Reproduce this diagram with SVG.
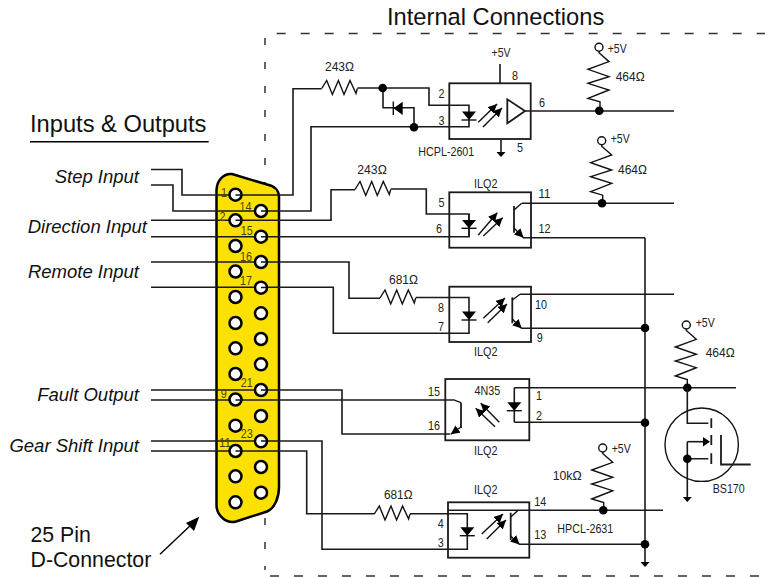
<svg xmlns="http://www.w3.org/2000/svg" width="765" height="577" viewBox="0 0 765 577">
<style>
text{font-family:"Liberation Sans",Arial,sans-serif;font-size:13.5px;fill:#222}
.big{font-size:23.7px;fill:#111}
.it{font-size:18.5px;font-style:italic;fill:#111}
.cap{font-size:21.3px;fill:#111}
.pinl{fill:#4a4400}
.w{fill:none;stroke:#1a1a1a;stroke-width:1.6}
.box{fill:none;stroke:#1a1a1a;stroke-width:1.8}
.th{fill:none;stroke:#111;stroke-width:1.4}
.d{fill:#000}
.pin{fill:#fff;stroke:#000;stroke-width:2.5}
.dash{fill:none;stroke:#333;stroke-width:1.5}
.oa{fill:none;stroke:#111;stroke-width:1.4;marker-end:url(#ah)}
</style>
<defs>
<marker id="ah" markerUnits="userSpaceOnUse" markerWidth="11" markerHeight="10" refX="9" refY="4.500" orient="auto"><path d="M0 0L9 4.500L0 9z" fill="#000"/></marker>
<path id="rh" class="th" d="M0 0L5 -8L10.700 6L16.700 -8L22.300 6L28.300 -8L34.300 5L35.700 0"/>
<g id="rv"><circle class="th" r="4"/><path class="th" d="M0 4V5.500L10 14.300L-11 22L10 29.300L-11 36L10 42.700L-11 51L1 54.500V63"/></g>
<g id="led"><path class="d" d="M-7 -8.400H7L0 0z"/><path class="th" d="M-7.500 0H7.500"/></g>
<polygon id="gt" class="d" points="-4.500,0 4.500,0 0,5"/>
</defs>

<path class="dash" stroke-dasharray="9 15" d="M276.700 33.500H765"/>
<path class="dash" stroke-dasharray="9 15" d="M270 576H765"/>
<path class="dash" stroke-dasharray="7 17" d="M265 38V570"/>

<g id="d-connector">
<path fill="#fbe000" stroke="#000" stroke-width="2.500" d="M216.500 190C217 180 224 173 232 174L267 184.500C275 186 279 191 279 197V487C279 497 275 508 267 511.500L236 521.500C226 524 216.500 515 216.500 505z"/>
</g>

<g id="connectors">
<path class="w" d="M151 169.500H182V195H293V88.700H321.700M357.400 88H429V105.300H469V126.700H311V211H173V185H151"/>
<path class="w" d="M383 88V107.700H414V127.300"/>
<path class="w" d="M151 220.300H331V189.700H355M390.700 189H426.300V214H469V236.700H151"/>
<path class="w" d="M151 262H349V298.300H380M415.700 297.500H469V333.300H333.300V287.300H151"/>
<path class="w" d="M151 390H342V434H450"/>
<path class="w" d="M151 400H453"/>
<path class="w" d="M151 441H322V549.300H467.300V513.700H410M374.300 513.700H306.700V451H151"/>
<path class="w" d="M525 111H674"/>
<path class="w" d="M522 203.300H674"/>
<path class="w" d="M523 237.700H645"/>
<path class="w" d="M520 294.300H674"/>
<path class="w" d="M521.700 328.300H645"/>
<path class="w" d="M514.300 387.700H736"/>
<path class="w" d="M514.300 422.300H645"/>
<path class="w" d="M448 510.300H663"/>
<path class="w" d="M519.300 544.300H645"/>
<path class="w" d="M645 237.700V562"/>
<path class="w" d="M514.300 387.700V422.300"/>
<use href="#gt" x="645" y="562"/>
<circle class="d" cx="382.700" cy="88" r="4.300"/>
<circle class="d" cx="414" cy="127.300" r="4.300"/>
<circle class="d" cx="645" cy="328" r="4.300"/>
<circle class="d" cx="645" cy="422.700" r="4.300"/>
<circle class="d" cx="645" cy="544.300" r="4.300"/>
</g>

<g id="d-connector-pins">
<g class="pin">
<circle cx="235.500" cy="194.700" r="6"/><circle cx="235.500" cy="220.300" r="6"/><circle cx="235.500" cy="246" r="6"/><circle cx="235.500" cy="271.500" r="6"/><circle cx="235.500" cy="297" r="6"/><circle cx="235.500" cy="323" r="6"/><circle cx="235.500" cy="348.300" r="6"/><circle cx="235.500" cy="374" r="6"/><circle cx="235.500" cy="399.500" r="6"/><circle cx="235.500" cy="425.700" r="6"/><circle cx="235.500" cy="451" r="6"/><circle cx="235.500" cy="476.300" r="6"/><circle cx="235.500" cy="502.300" r="6"/>
<circle cx="261" cy="211" r="6"/><circle cx="261" cy="236.700" r="6"/><circle cx="261" cy="262" r="6"/><circle cx="261" cy="287.700" r="6"/><circle cx="261" cy="313.300" r="6"/><circle cx="261" cy="339" r="6"/><circle cx="261" cy="364.300" r="6"/><circle cx="261" cy="390" r="6"/><circle cx="261" cy="416" r="6"/><circle cx="261" cy="441.300" r="6"/><circle cx="261" cy="467" r="6"/><circle cx="261" cy="492.700" r="6"/>
</g>
<path class="th" d="M235.500 195H242M235.500 220.300H242M235.500 400H242M235.500 451H242M261 211H267M261 236.700H267M261 262H267M261 287.500H267M261 390H267M261 441H267"/>
<text class="pinl" x="221" y="196.700" textLength="6" lengthAdjust="spacingAndGlyphs">1</text><text class="pinl" x="239.500" y="210.700" textLength="12" lengthAdjust="spacingAndGlyphs">14</text><text class="pinl" x="219.500" y="220.700" textLength="6" lengthAdjust="spacingAndGlyphs">2</text><text class="pinl" x="240.700" y="235" textLength="12" lengthAdjust="spacingAndGlyphs">15</text><text class="pinl" x="240" y="261" textLength="12" lengthAdjust="spacingAndGlyphs">16</text><text class="pinl" x="240" y="285" textLength="12" lengthAdjust="spacingAndGlyphs">17</text><text class="pinl" x="240.700" y="387.300" textLength="12" lengthAdjust="spacingAndGlyphs">21</text><text class="pinl" x="220.700" y="398.300" textLength="6" lengthAdjust="spacingAndGlyphs">9</text><text class="pinl" x="240.700" y="438.300" textLength="12" lengthAdjust="spacingAndGlyphs">23</text><text class="pinl" x="219" y="447.300" textLength="12" lengthAdjust="spacingAndGlyphs">11</text>
</g>

<g id="titles">
<text class="big" x="387" y="25">Internal Connections</text>
<text class="big" x="30" y="131.500">Inputs &amp; Outputs</text>
<path d="M30 141.700H208.700" stroke="#000" stroke-width="1.400"/>
<text class="it" x="139" y="182.700" text-anchor="end">Step Input</text>
<text class="it" x="147" y="233.300" text-anchor="end">Direction Input</text>
<text class="it" x="139" y="278.300" text-anchor="end">Remote Input</text>
<text class="it" x="139" y="401" text-anchor="end">Fault Output</text>
<text class="it" x="139" y="451.700" text-anchor="end">Gear Shift Input</text>
<text class="cap" x="30.500" y="541.700">25 Pin</text>
<text class="cap" x="30.500" y="567.300">D-Connector</text>
<path d="M160 554.300L192 524" stroke="#000" stroke-width="1.400"/>
<path d="M199.300 516.700L194 531L186 523z" fill="#000"/>
</g>

<g id="r1"><use href="#rh" x="321.700" y="88.500"/><text x="325" y="70.700" textLength="29" lengthAdjust="spacingAndGlyphs">243Ω</text></g>
<g id="d1"><path class="d" d="M402.700 101.700V115L393.500 108.300z"/><path class="th" d="M393.300 101.500V115"/></g>

<g id="u1">
<rect class="box" x="449.300" y="83.300" width="81.400" height="55.700"/>
<path class="w" d="M500 64V83.300M501 140V153"/><use href="#gt" x="501" y="152"/>
<use href="#led" x="469" y="120"/>
<path class="oa" d="M478.300 122.300L497 104"/><path class="oa" d="M483 127L502 108"/>
<path class="box" d="M507.300 99.300V123.300L525 111z"/>
<text x="491.500" y="57" textLength="19" lengthAdjust="spacingAndGlyphs">+5V</text><text x="512" y="80" textLength="6" lengthAdjust="spacingAndGlyphs">8</text><text x="517" y="151.700" textLength="6" lengthAdjust="spacingAndGlyphs">5</text><text x="539" y="107" textLength="6" lengthAdjust="spacingAndGlyphs">6</text>
<text x="438.500" y="98" textLength="6" lengthAdjust="spacingAndGlyphs">2</text><text x="438.500" y="125" textLength="6" lengthAdjust="spacingAndGlyphs">3</text>
<text x="418.300" y="156" textLength="56" lengthAdjust="spacingAndGlyphs">HCPL-2601</text>
</g>
<g id="r2"><use href="#rv" x="599" y="47.300"/><circle class="d" cx="599.300" cy="110.700" r="4.300"/><text x="607.700" y="52.700" textLength="19" lengthAdjust="spacingAndGlyphs">+5V</text><text x="615.700" y="81" textLength="29" lengthAdjust="spacingAndGlyphs">464Ω</text></g>

<g id="r3"><use href="#rh" x="355" y="189.500"/><text x="357.300" y="174" textLength="29.500" lengthAdjust="spacingAndGlyphs">243Ω</text></g>
<g id="u2">
<rect class="box" x="449.300" y="192.300" width="81.700" height="55.400"/>
<path class="w" d="M469 214V236.700"/><use href="#led" x="469" y="228.300"/>
<path class="oa" d="M478.300 235L497.300 212.700"/><path class="oa" d="M483.300 236L502.700 217.700"/>
<path class="box" d="M514 206V232.700"/><path class="th" d="M514 210L521.700 203.300"/><path class="oa" d="M514 228L523.500 237.800"/>
<text x="474" y="188" textLength="23.500" lengthAdjust="spacingAndGlyphs">ILQ2</text><text x="538.500" y="198" textLength="12" lengthAdjust="spacingAndGlyphs">11</text><text x="538.500" y="233" textLength="12" lengthAdjust="spacingAndGlyphs">12</text><text x="438.500" y="206.700" textLength="6" lengthAdjust="spacingAndGlyphs">5</text><text x="436" y="233" textLength="6" lengthAdjust="spacingAndGlyphs">6</text>
</g>
<g id="r4"><use href="#rv" x="601.700" y="140.700"/><circle class="d" cx="602" cy="203.300" r="4.300"/><text x="610.700" y="142.700" textLength="19" lengthAdjust="spacingAndGlyphs">+5V</text><text x="618" y="174" textLength="29" lengthAdjust="spacingAndGlyphs">464Ω</text></g>

<g id="r5"><use href="#rh" x="380" y="298"/><text x="389" y="284" textLength="29" lengthAdjust="spacingAndGlyphs">681Ω</text></g>
<g id="u3">
<rect class="box" x="449.300" y="286.700" width="81.700" height="55.300"/>
<use href="#led" x="469" y="320"/>
<path class="oa" d="M483.300 318.300L505 298"/><path class="oa" d="M487.700 322.700L507 304"/>
<path class="box" d="M512.300 297.300V323.300"/><path class="th" d="M512.300 300L520 294.300"/><path class="oa" d="M512.300 319L521.700 328.500"/>
<text x="474" y="356" textLength="23.500" lengthAdjust="spacingAndGlyphs">ILQ2</text><text x="535" y="309" textLength="12" lengthAdjust="spacingAndGlyphs">10</text><text x="536.700" y="341.700" textLength="6" lengthAdjust="spacingAndGlyphs">9</text><text x="438" y="311.700" textLength="6" lengthAdjust="spacingAndGlyphs">8</text><text x="438" y="330.700" textLength="6" lengthAdjust="spacingAndGlyphs">7</text>
</g>

<g id="u4">
<rect class="box" x="445.300" y="379" width="84" height="61.300"/>
<use href="#led" x="514.300" y="410.700"/>
<path class="oa" d="M495 426.700L475.700 408.300"/><path class="oa" d="M499.300 422.300L480.700 403.300"/>
<path class="box" d="M461 402.700V428"/><path class="th" d="M453 399.700L461 402.700"/><path class="oa" d="M461 427L450.700 434.300"/>
<text x="474.500" y="394.700" textLength="25.700" lengthAdjust="spacingAndGlyphs">4N35</text><text x="474" y="455" textLength="23.500" lengthAdjust="spacingAndGlyphs">ILQ2</text><text x="428" y="395.700" textLength="12" lengthAdjust="spacingAndGlyphs">15</text><text x="428" y="430" textLength="12" lengthAdjust="spacingAndGlyphs">16</text><text x="536" y="400" textLength="6" lengthAdjust="spacingAndGlyphs">1</text><text x="536" y="420" textLength="6" lengthAdjust="spacingAndGlyphs">2</text>
</g>

<g id="r6"><use href="#rh" x="374.300" y="514"/><text x="384" y="499" textLength="28.500" lengthAdjust="spacingAndGlyphs">681Ω</text></g>
<g id="u5">
<rect class="box" x="448" y="502.300" width="81.300" height="55.400"/>
<use href="#led" x="467.300" y="535.700"/>
<path class="oa" d="M481.700 534L503 514"/><path class="oa" d="M486.700 539L506 520"/>
<path class="box" d="M510.700 512.700V540"/><path class="th" d="M510.700 517L517.700 510.700"/><path class="oa" d="M510.700 536L519.500 544.500"/>
<text x="474" y="494" textLength="23.500" lengthAdjust="spacingAndGlyphs">ILQ2</text><text x="534.300" y="505.700" textLength="12" lengthAdjust="spacingAndGlyphs">14</text><text x="534.300" y="539" textLength="12" lengthAdjust="spacingAndGlyphs">13</text><text x="437.700" y="527.700" textLength="6" lengthAdjust="spacingAndGlyphs">4</text><text x="437.700" y="546.700" textLength="6" lengthAdjust="spacingAndGlyphs">3</text>
</g>
<g id="r7"><use href="#rv" x="602.700" y="448"/><circle class="d" cx="603.300" cy="510.300" r="4.300"/><text x="611.700" y="452.700" textLength="19" lengthAdjust="spacingAndGlyphs">+5V</text><text x="552.700" y="480" textLength="29" lengthAdjust="spacingAndGlyphs">10kΩ</text><text x="557.300" y="532.700" textLength="56" lengthAdjust="spacingAndGlyphs">HPCL-2631</text></g>

<g id="r8"><use href="#rv" x="686.300" y="325"/><circle class="d" cx="687.300" cy="387.700" r="4.300"/><text x="695.700" y="326.700" textLength="19" lengthAdjust="spacingAndGlyphs">+5V</text><text x="705.700" y="356.700" textLength="29" lengthAdjust="spacingAndGlyphs">464Ω</text></g>
<g id="q1">
<circle class="th" cx="701.700" cy="444.700" r="36.700"/>
<path class="w" d="M687.300 387.700V423.300H708.300M687.300 441.700V497M687.300 458.700H708.300"/>
<path class="w" d="M687.300 441.700H703"/><path class="d" d="M710 441.700L703 437V446.500z"/>
<use href="#gt" x="687.300" y="497"/>
<circle class="d" cx="687.300" cy="458.700" r="4.300"/>
<path class="box" d="M711.300 418.300V428M711.300 435V445M711.300 453.300V464M721 435V464.500H750.700"/>
<text x="712.700" y="492.700" textLength="32" lengthAdjust="spacingAndGlyphs">BS170</text>
</g>
</svg>
